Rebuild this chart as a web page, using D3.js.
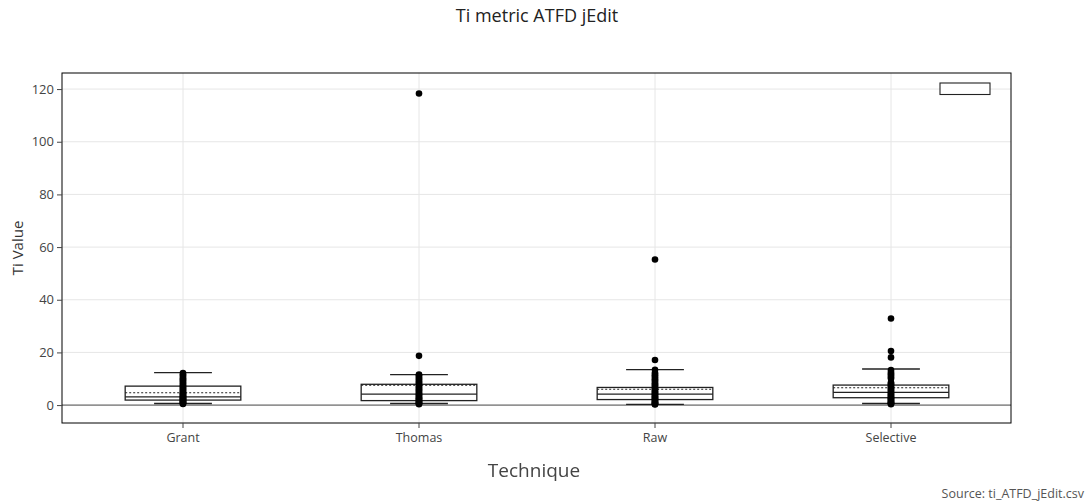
<!DOCTYPE html>
<html>
<head>
<meta charset="utf-8">
<script src="https://cdn.jsdelivr.net/npm/d3@7"></script>
<style>
  html, body { margin: 0; padding: 0; background: #fff; }
  svg { display: block; font-family: "Open Sans", "Noto Sans", sans-serif; }
</style>
</head>
<body>
<svg id="chart" width="1091" height="503"></svg>
<script>
// Techniques on the x axis
const categories = ["Grant", "Thomas", "Raw", "Selective"];

// Box statistics per technique
const lowerFence = [0.6, 0.6, 0.3, 0.6];
const q1Values   = [1.9, 1.7, 2.1, 2.8];
const medians    = [3.1, 4.2, 4.2, 4.8];
const means      = [4.7, 7.6, 6.0, 6.6];
const q3Values   = [7.2, 7.9, 6.7, 7.6];
const upperFence = [12.3, 11.6, 13.5, 13.7];

// Individual observations per technique
const grantPoints = [0.4, 0.6, 0.8, 1.0, 1.2, 1.5, 1.7, 1.9, 2.1, 2.4, 2.6, 2.9, 3.1, 3.3, 3.6,
  3.9, 4.2, 4.5, 4.8, 5.1, 5.5, 5.9, 6.3, 6.7, 7.1, 7.5, 8.0, 8.4, 8.9, 9.3, 9.8, 10.2, 10.7, 11.2, 11.7, 12.2];
const thomasPoints = [0.3, 0.5, 0.7, 0.9, 1.2, 1.4, 1.7, 2.0, 2.3, 2.6, 2.9, 3.2, 3.6, 4.0, 4.3,
  4.7, 5.1, 5.5, 5.9, 6.3, 6.8, 7.2, 7.7, 8.1, 8.6, 9.0, 9.5, 9.9, 10.4, 10.8, 11.3, 11.6, 18.7, 118.3];
const rawPoints = [0.2, 0.4, 0.6, 0.8, 1.0, 1.3, 1.6, 1.9, 2.2, 2.5, 2.8, 3.1, 3.4, 3.8, 4.1,
  4.5, 4.9, 5.3, 5.7, 6.1, 6.5, 6.9, 7.4, 7.8, 8.3, 8.8, 9.3, 9.8, 10.3, 10.8, 11.3, 11.8, 12.3, 13.4, 17.1, 55.3];
const selectivePoints = [0.3, 0.5, 0.7, 0.9, 1.1, 1.4, 1.7, 2.0, 2.3, 2.6, 2.9, 3.2, 3.5, 3.9, 4.2,
  4.6, 5.0, 5.4, 5.8, 6.2, 6.6, 7.0, 7.4, 7.8, 8.2, 8.6, 10.0, 10.5, 11.0, 11.5, 12.0, 12.6, 13.3, 18.1, 20.5, 32.9];
const pointSets = [grantPoints, thomasPoints, rawPoints, selectivePoints];

// Axis ticks
const yTicks = [0, 20, 40, 60, 80, 100, 120];

const svg = d3.select("#chart");
const plotLeft = 62, plotRight = 1011, plotTop = 73, plotBottom = 423;

const x = d3.scaleBand().domain(categories).range([65, 1009]).padding(0);
const y = d3.scaleLinear().domain([-6.8, 126.1]).range([plotBottom, plotTop]);

// gridlines
const g = svg.append("g");
g.selectAll("line.ygrid").data(yTicks.filter(t => t !== 0)).enter().append("line")
  .attr("x1", plotLeft).attr("x2", plotRight)
  .attr("y1", d => y(d)).attr("y2", d => y(d))
  .attr("stroke", "#e6e6e6").attr("stroke-width", 1);
g.selectAll("line.xgrid").data(categories).enter().append("line")
  .attr("x1", d => x(d) + x.bandwidth() / 2).attr("x2", d => x(d) + x.bandwidth() / 2)
  .attr("y1", plotTop).attr("y2", plotBottom)
  .attr("stroke", "#e6e6e6").attr("stroke-width", 1);

// zero line
g.append("line")
  .attr("x1", plotLeft).attr("x2", plotRight)
  .attr("y1", y(0)).attr("y2", y(0))
  .attr("stroke", "#444").attr("stroke-width", 1);

// boxes
const boxW = x.bandwidth() * 0.49;
const whiskW = boxW / 2;
categories.forEach((c, i) => {
  const cx = x(c) + x.bandwidth() / 2;
  const bg = svg.append("g");
  bg.append("rect")
    .attr("x", cx - boxW / 2).attr("width", boxW)
    .attr("y", y(q3Values[i])).attr("height", y(q1Values[i]) - y(q3Values[i]))
    .attr("fill", "none").attr("stroke", "#222").attr("stroke-width", 1.3);
  bg.append("line")
    .attr("x1", cx - boxW / 2).attr("x2", cx + boxW / 2)
    .attr("y1", y(medians[i])).attr("y2", y(medians[i]))
    .attr("stroke", "#222").attr("stroke-width", 1.3);
  bg.append("line")
    .attr("x1", cx - boxW / 2).attr("x2", cx + boxW / 2)
    .attr("y1", y(means[i])).attr("y2", y(means[i]))
    .attr("stroke", "#222").attr("stroke-width", 1.1).attr("stroke-dasharray", "2,2");
  // whiskers
  bg.append("line")
    .attr("x1", cx).attr("x2", cx)
    .attr("y1", y(q3Values[i])).attr("y2", y(upperFence[i]))
    .attr("stroke", "#222").attr("stroke-width", 1.3);
  bg.append("line")
    .attr("x1", cx).attr("x2", cx)
    .attr("y1", y(q1Values[i])).attr("y2", y(lowerFence[i]))
    .attr("stroke", "#222").attr("stroke-width", 1.3);
  [upperFence[i], lowerFence[i]].forEach(v => {
    bg.append("line")
      .attr("x1", cx - whiskW / 2).attr("x2", cx + whiskW / 2)
      .attr("y1", y(v)).attr("y2", y(v))
      .attr("stroke", "#222").attr("stroke-width", 1.3);
  });
  // points
  bg.selectAll("circle").data(pointSets[i]).enter().append("circle")
    .attr("cx", cx).attr("cy", d => y(d)).attr("r", 3.3)
    .attr("fill", "#000");
});

// frame
svg.append("rect")
  .attr("x", plotLeft).attr("y", plotTop)
  .attr("width", plotRight - plotLeft).attr("height", plotBottom - plotTop)
  .attr("fill", "none").attr("stroke", "#000").attr("stroke-width", 1);

// y axis
const yAxis = d3.axisLeft(y).tickValues(yTicks).tickSize(5).tickPadding(3);
const ya = svg.append("g").attr("transform", `translate(${plotLeft},0)`).call(yAxis);
ya.select(".domain").remove();
ya.selectAll("text").attr("font-size", 13).attr("fill", "#444").attr("font-family", "Open Sans");
ya.selectAll("line").attr("stroke", "#444");

// x axis
const xAxis = d3.axisBottom(x).tickSize(5).tickPadding(5);
const xa = svg.append("g").attr("transform", `translate(0,${plotBottom})`).call(xAxis);
xa.select(".domain").remove();
xa.selectAll("text").attr("font-size", 12.5).attr("fill", "#444").attr("font-family", "Open Sans");
xa.selectAll("line").attr("stroke", "#444");

// legend swatch
svg.append("rect")
  .attr("x", 940).attr("y", 83).attr("width", 50).attr("height", 11.5)
  .attr("fill", "#fff").attr("stroke", "#222").attr("stroke-width", 1.1);

// titles
svg.append("text")
  .attr("x", 537).attr("y", 22).attr("text-anchor", "middle")
  .attr("font-size", 18).attr("fill", "#222").text("Ti metric ATFD jEdit");
svg.append("text")
  .attr("transform", `translate(23,${(plotTop + plotBottom) / 2}) rotate(-90)`)
  .attr("text-anchor", "middle").attr("font-size", 15).attr("fill", "#333")
  .text("Ti Value");
svg.append("text")
  .attr("x", 534).attr("y", 477).attr("text-anchor", "middle")
  .attr("font-size", 19).attr("fill", "#444").style("filter", "blur(0.35px)")
  .text("Technique");
svg.append("text")
  .attr("x", 1084).attr("y", 498).attr("text-anchor", "end")
  .attr("font-size", 12.5).attr("fill", "#555")
  .text("Source: ti_ATFD_jEdit.csv");
</script>
</body>
</html>
